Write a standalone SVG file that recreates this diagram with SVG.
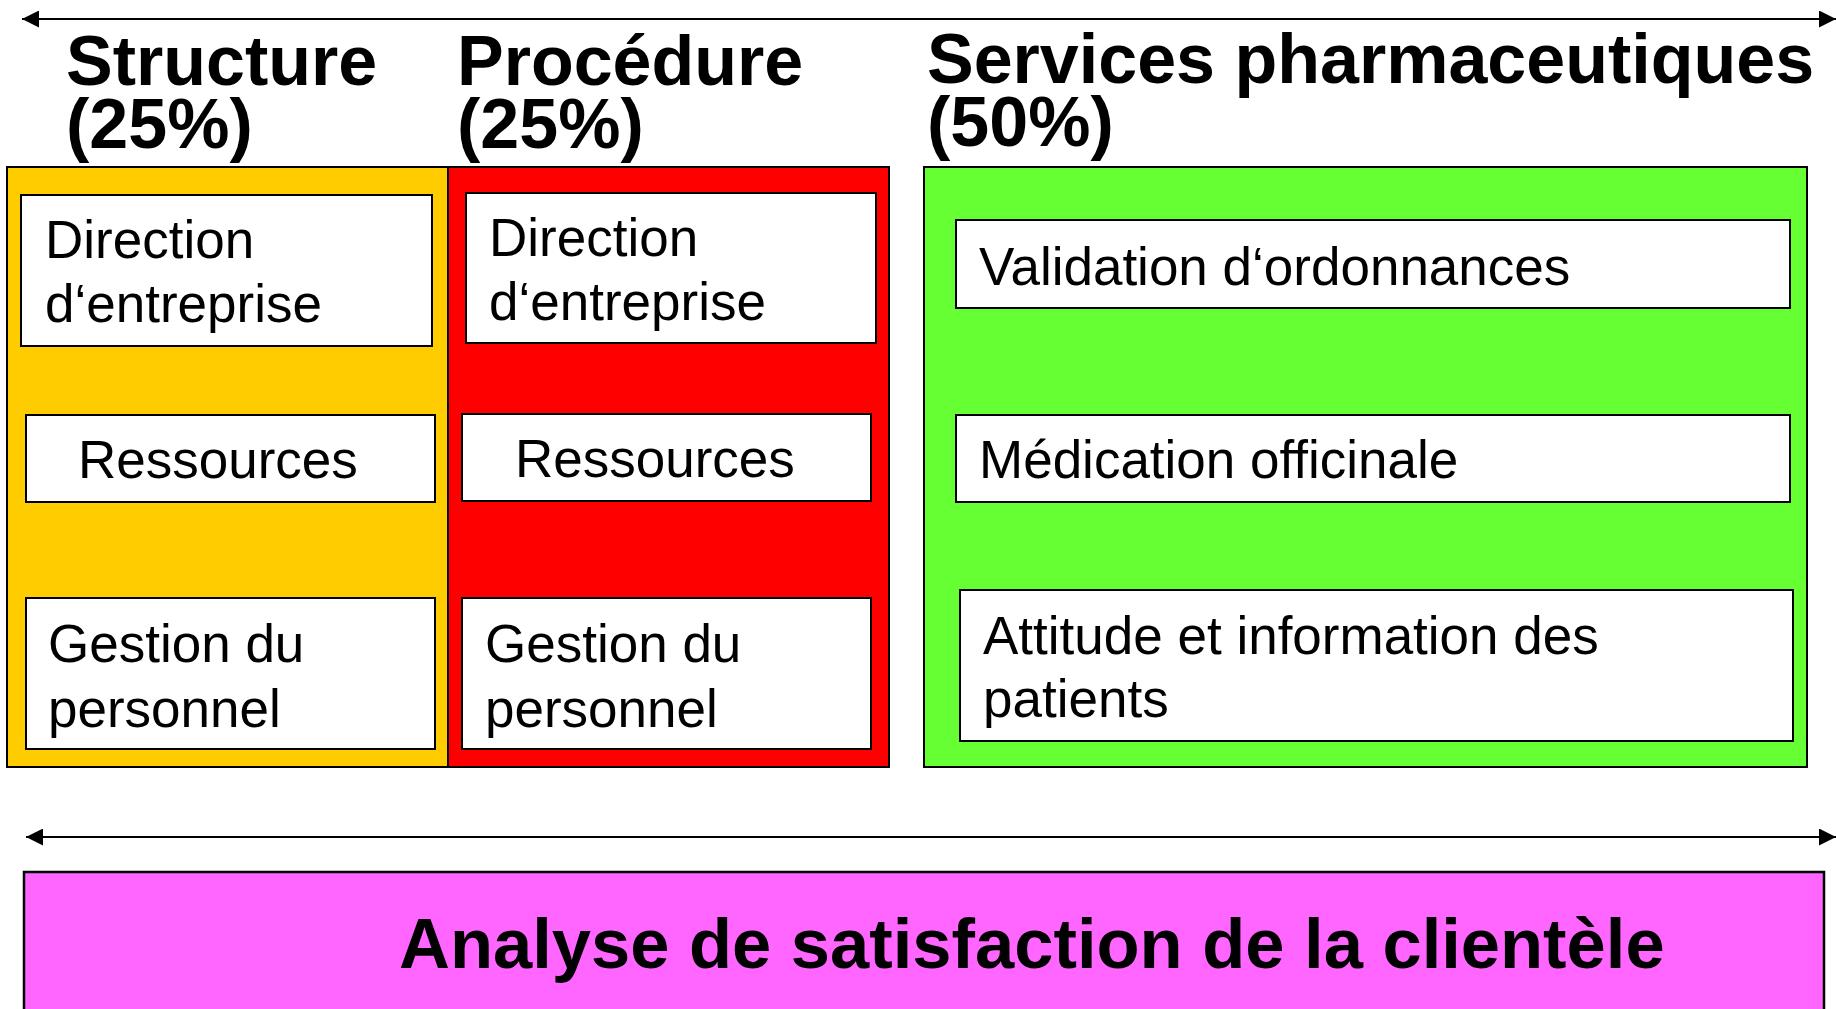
<svg xmlns="http://www.w3.org/2000/svg" width="1836" height="1009" viewBox="0 0 1836 1009">
<style>
.panel{stroke:#000;stroke-width:2}
.item{fill:#fff;stroke:#000;stroke-width:2}
.t{font-family:"Liberation Sans",Arial,sans-serif;font-size:53px;fill:#000}
.h{font-family:"Liberation Sans",Arial,sans-serif;font-size:70px;font-weight:bold;fill:#000}
.conn{stroke:#000;stroke-width:2;fill:none}
</style>
<defs>
<marker id="arrow" markerUnits="userSpaceOnUse" markerWidth="17" markerHeight="17" refX="17" refY="8.5" orient="auto-start-reverse">
<path d="M0,0 L17,8.5 L0,17 z" fill="#000"/>
</marker>
</defs>
<rect x="0" y="0" width="1836" height="1009" fill="#fff"/>

<g id="connectors">
<line class="conn" x1="22" y1="19" x2="1836" y2="19" marker-start="url(#arrow)" marker-end="url(#arrow)"/>
<line class="conn" x1="26" y1="837" x2="1836" y2="837" marker-start="url(#arrow)" marker-end="url(#arrow)"/>
</g>

<g id="structure">
<text class="h" x="66" y="85">Structure</text>
<text class="h" x="66" y="148">(25%)</text>
<rect class="panel" x="7" y="167" width="441" height="600" fill="#FFCC00"/>
</g>
<g id="procedure">
<text class="h" x="457" y="85">Procédure</text>
<text class="h" x="457" y="148">(25%)</text>
<rect class="panel" x="448" y="167" width="441" height="600" fill="#FF0000"/>
</g>
<g id="services">
<text class="h" x="927" y="83">Services pharmaceutiques</text>
<text class="h" x="927" y="146">(50%)</text>
<rect class="panel" x="924" y="167" width="883" height="600" fill="#66FF33"/>
</g>

<g id="s-direction">
<rect class="item" x="21" y="195" width="411" height="151"/>
<text class="t" x="45" y="258">Direction</text>
<text class="t" x="45" y="322">d‘entreprise</text>
</g>
<g id="s-ressources">
<rect class="item" x="26" y="415" width="409" height="87"/>
<text class="t" x="78" y="478">Ressources</text>
</g>
<g id="s-gestion">
<rect class="item" x="26" y="598" width="409" height="151"/>
<text class="t" x="48" y="662">Gestion du</text>
<text class="t" x="48" y="727">personnel</text>
</g>

<g id="p-direction">
<rect class="item" x="466" y="193" width="410" height="150"/>
<text class="t" x="489" y="256">Direction</text>
<text class="t" x="489" y="320">d‘entreprise</text>
</g>
<g id="p-ressources">
<rect class="item" x="462" y="414" width="409" height="87"/>
<text class="t" x="515" y="477">Ressources</text>
</g>
<g id="p-gestion">
<rect class="item" x="462" y="598" width="409" height="151"/>
<text class="t" x="485" y="662">Gestion du</text>
<text class="t" x="485" y="727">personnel</text>
</g>

<g id="sv-validation">
<rect class="item" x="956" y="220" width="834" height="88"/>
<text class="t" x="979" y="285">Validation d‘ordonnances</text>
</g>
<g id="sv-medication">
<rect class="item" x="956" y="415" width="834" height="87"/>
<text class="t" x="979" y="478">Médication officinale</text>
</g>
<g id="sv-attitude">
<rect class="item" x="960" y="590" width="833" height="151"/>
<text class="t" x="983" y="654">Attitude et information des</text>
<text class="t" x="983" y="717">patients</text>
</g>

<g id="analyse">
<rect x="24" y="872" width="1800" height="150" fill="#FF66FF" stroke="#000" stroke-width="2.5"/>
<text class="h" x="399" y="968" style="font-size:70.5px">Analyse de satisfaction de la clientèle</text>
</g>
</svg>
